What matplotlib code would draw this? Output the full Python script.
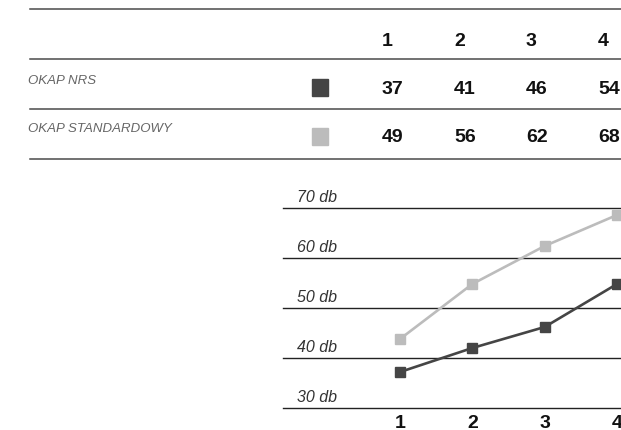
import matplotlib
matplotlib.use("Agg")
import matplotlib.pyplot as plt
from matplotlib.lines import Line2D
from matplotlib.patches import Rectangle
import matplotlib.transforms as mtransforms

# data
points = [1, 2, 3, 4]
series_names = ["OKAP NRS", "OKAP STANDARDOWY"]
series_colors = ["#454545", "#bcbcbc"]
# values printed in the table
table_nrs = [37, 41, 46, 54]
table_std = [49, 56, 62, 68]
# values as drawn in the line chart
line_nrs = [37.2, 42, 46.2, 54.8]
line_std = [43.8, 54.8, 62.4, 68.6]
y_ticks = [30, 40, 50, 60, 70]

plt.rcParams["font.family"] = ["Liberation Sans", "DejaVu Sans"]
W, H = 621, 431
fig = plt.figure(figsize=(W / 100, H / 100), dpi=100)


def fx(px):
    return px / W


def fy(py):
    # py measured from the top edge
    return 1 - py / H


# --- table ---
rule_color = "#4a4a4a"
for ry in [10, 60, 109.5, 159.5]:
    fig.add_artist(Line2D([fx(30), fx(W + 5)], [fy(ry), fy(ry)],
                          color=rule_color, lw=1.1, transform=fig.transFigure))

col_left = 382
col_step = 72
num_size = 14
for i, p in enumerate(points):
    fig.text(fx(col_left + i * col_step), fy(41), str(p), ha="left", va="center",
             fontsize=num_size, fontweight="bold", color="#111111")

row_y = [89, 138]
table_rows = [table_nrs, table_std]
for name, color, vals, ry in zip(series_names, series_colors, table_rows, row_y):
    fig.text(fx(28), fy(ry - 8.5), name, ha="left", va="center", fontsize=9.5,
             style="italic", color="#666666")
    fig.add_artist(Rectangle((fx(312), fy(ry + 7.5)), fx(16), 17 / H, color=color,
                             transform=fig.transFigure))
    for i, v in enumerate(vals):
        fig.text(fx(col_left + i * col_step), fy(ry), str(v), ha="left", va="center",
                 fontsize=num_size, fontweight="bold", color="#111111")

# --- line chart ---
ax_left, ax_right = 283, 680
ax = fig.add_axes([fx(ax_left), 22 / H, (ax_right - ax_left) / W, 200 / H])
unit = (617 - 400) / 3
ax.set_xlim(1 - (400 - ax_left) / unit, 4 + (ax_right - 617) / unit)
ax.set_ylim(30, 70)
for s in ax.spines.values():
    s.set_visible(False)

for t in y_ticks:
    ax.axhline(t, color="#222222", lw=1.0, clip_on=False)
    ax.annotate(f"{t} db", xy=((297 - ax_left) / (ax_right - ax_left), t),
                xycoords=mtransforms.blended_transform_factory(ax.transAxes, ax.transData),
                xytext=(0, 3), textcoords="offset points", ha="left", va="bottom",
                fontsize=11.5, style="italic", color="#333333")

ax.plot(points, line_std, color=series_colors[1], lw=1.9, marker="s", ms=6.5,
        clip_on=False, zorder=3)
ax.plot(points, line_nrs, color=series_colors[0], lw=1.9, marker="s", ms=6.5,
        clip_on=False, zorder=3)

ax.set_yticks([])
ax.set_xticks(points)
ax.set_xticklabels([str(p) for p in points], fontsize=num_size, fontweight="bold",
                   color="#111111")
ax.tick_params(axis="x", length=0, pad=4)

fig.savefig("out.png", dpi=100)
